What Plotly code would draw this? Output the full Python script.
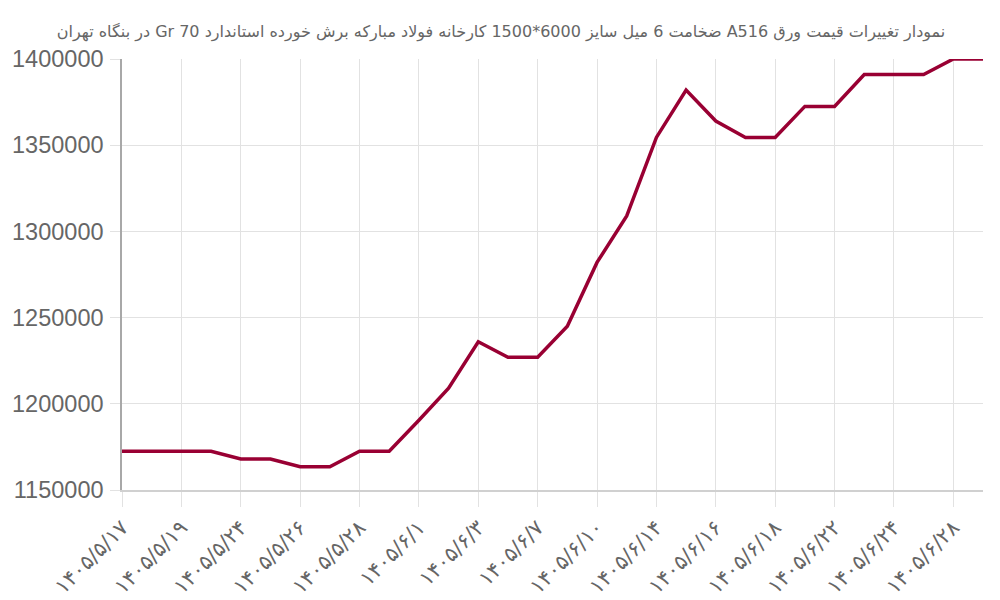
import plotly.graph_objects as go

# Persian date labels (every other one is shown on the axis)
dates = [
    "۱۴۰۵/۵/۱۷", "۱۴۰۵/۵/۱۸", "۱۴۰۵/۵/۱۹", "۱۴۰۵/۵/۲۲", "۱۴۰۵/۵/۲۴",
    "۱۴۰۵/۵/۲۵", "۱۴۰۵/۵/۲۶", "۱۴۰۵/۵/۲۷", "۱۴۰۵/۵/۲۸", "۱۴۰۵/۵/۳۱",
    "۱۴۰۵/۶/۱", "۱۴۰۵/۶/۲", "۱۴۰۵/۶/۳", "۱۴۰۵/۶/۴", "۱۴۰۵/۶/۷",
    "۱۴۰۵/۶/۸", "۱۴۰۵/۶/۱۰", "۱۴۰۵/۶/۱۱", "۱۴۰۵/۶/۱۴", "۱۴۰۵/۶/۱۵",
    "۱۴۰۵/۶/۱۶", "۱۴۰۵/۶/۱۷", "۱۴۰۵/۶/۱۸", "۱۴۰۵/۶/۲۱", "۱۴۰۵/۶/۲۲",
    "۱۴۰۵/۶/۲۳", "۱۴۰۵/۶/۲۴", "۱۴۰۵/۶/۲۵", "۱۴۰۵/۶/۲۸", "۱۴۰۵/۶/۲۹",
]

prices = [
    1172500, 1172500, 1172500, 1172500, 1168000,
    1168000, 1163500, 1163500, 1172500, 1172500,
    1190500, 1209000, 1236000, 1227000, 1227000,
    1245000, 1282000, 1309000, 1354500, 1382000,
    1364000, 1354500, 1354500, 1372500, 1372500,
    1391000, 1391000, 1391000, 1400000, 1400000,
]

y_ticks = [1150000, 1200000, 1250000, 1300000, 1350000, 1400000]

title_text = (
    "نمودار تغییرات قیمت ورق A516 ضخامت 6 میل سایز 6000*1500 "
    "کارخانه فولاد مبارکه برش خورده استاندارد Gr 70 در بنگاه تهران"
)

LINE_COLOR = "#990033"
GRID_COLOR = "#e2e2e2"
TEXT_COLOR = "#666666"

fig = go.Figure()
fig.add_trace(
    go.Scatter(
        x=dates,
        y=prices,
        mode="lines",
        line=dict(color=LINE_COLOR, width=3.5),
        hoverinfo="x+y",
    )
)

# page body has an 8px margin, so margins are shifted to land the plot area
fig.update_layout(
    width=1000,
    height=600,
    margin=dict(l=114, r=25, t=51, b=118),
    paper_bgcolor="white",
    plot_bgcolor="white",
    showlegend=False,
    title=dict(
        text="\u202b" + title_text + "\u202c",
        x=0.493,
        xref="container",
        xanchor="center",
        y=1 - 23 / 600,
        yanchor="middle",
        font=dict(family="DejaVu Sans", size=16, color=TEXT_COLOR),
    ),
)

fig.update_xaxes(
    type="category",
    range=[0, len(dates) - 1],
    tickmode="array",
    tickvals=dates[::2],
    ticktext=dates[::2],
    tickangle=-45,
    tickfont=dict(family="DejaVu Sans", size=21, color=TEXT_COLOR),
    showgrid=True,
    gridcolor=GRID_COLOR,
    gridwidth=1,
    ticks="outside",
    ticklen=15,
    tickcolor=GRID_COLOR,
    showline=True,
    linecolor="#d0d0d0",
    linewidth=2,
    zeroline=False,
    automargin=False,
)

fig.update_yaxes(
    range=[1150000, 1400000],
    tickmode="array",
    tickvals=y_ticks,
    tickformat="d",
    tickfont=dict(family="Liberation Sans", size=23.5, color=TEXT_COLOR),
    ticklabelstandoff=2,
    showgrid=True,
    gridcolor=GRID_COLOR,
    gridwidth=1,
    ticks="outside",
    ticklen=10,
    tickcolor=GRID_COLOR,
    showline=True,
    linecolor="#a8a8a8",
    linewidth=1.5,
    zeroline=False,
    automargin=False,
)

fig.write_html("out.html")
